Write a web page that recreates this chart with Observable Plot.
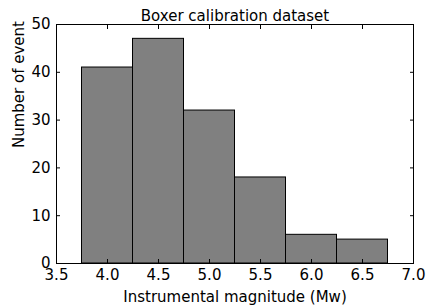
<!DOCTYPE html>
<html><head><meta charset="utf-8">
<script src="https://cdn.jsdelivr.net/npm/d3@7"></script>
<script src="https://cdn.jsdelivr.net/npm/@observablehq/plot@0.6"></script>
<style>body{margin:0;background:#fff} #chart svg{display:block}</style>
</head><body><div id="chart"></div>
<script>
const binStart = [3.75, 4.25, 4.75, 5.25, 5.75, 6.25];
const binEnd = [4.25, 4.75, 5.25, 5.75, 6.25, 6.75];
const counts = [41, 47, 32, 18, 6, 5];
const xTicks = [3.5, 4.0, 4.5, 5.0, 5.5, 6.0, 6.5, 7.0];
const yTicks = [0, 10, 20, 30, 40, 50];
const title = "Boxer calibration dataset";
const xLabel = "Instrumental magnitude (Mw)";
const yLabel = "Number of event";

const bins = binStart.map((s, i) => ({x1: s, x2: binEnd[i], count: counts[i]}));

const plot = Plot.plot({
  width: 426, height: 307,
  marginLeft: 56, marginRight: 13, marginTop: 24, marginBottom: 44,
  style: {fontFamily: "DejaVu Sans", fontSize: "15px", color: "#000", background: "#fff", overflow: "visible"},
  x: {domain: [3.5, 7.0]},
  y: {domain: [0, 50]},
  marks: [
    Plot.rectY(bins, {x1: "x1", x2: "x2", y: "count", fill: "#808080", stroke: "#000", strokeWidth: 1}),
    Plot.frame({stroke: "#000", strokeWidth: 1}),
    Plot.axisX(xTicks, {anchor: "bottom", tickSize: -4, tickPadding: 10, tickFormat: d => d.toFixed(1), label: null, fontSize: 15}),
    Plot.axisX(xTicks, {anchor: "top", tickSize: -4, tickFormat: () => "", label: null}),
    Plot.axisY(yTicks, {anchor: "left", tickSize: -4, tickPadding: 10, tickFormat: d => String(d), label: null, fontSize: 15}),
    Plot.axisY(yTicks, {anchor: "right", tickSize: -4, tickFormat: () => "", label: null}),
    Plot.text([title], {frameAnchor: "top", text: d => d, dy: -4, lineAnchor: "bottom", fontSize: 15}),
    Plot.text([xLabel], {frameAnchor: "bottom", text: d => d, dy: 38, lineAnchor: "bottom", fontSize: 15}),
    Plot.text([yLabel], {frameAnchor: "left", text: d => d, rotate: -90, dx: -33, dy: 4, lineAnchor: "bottom", fontSize: 15})
  ]
});
document.getElementById("chart").append(plot);
</script>
</body></html>
